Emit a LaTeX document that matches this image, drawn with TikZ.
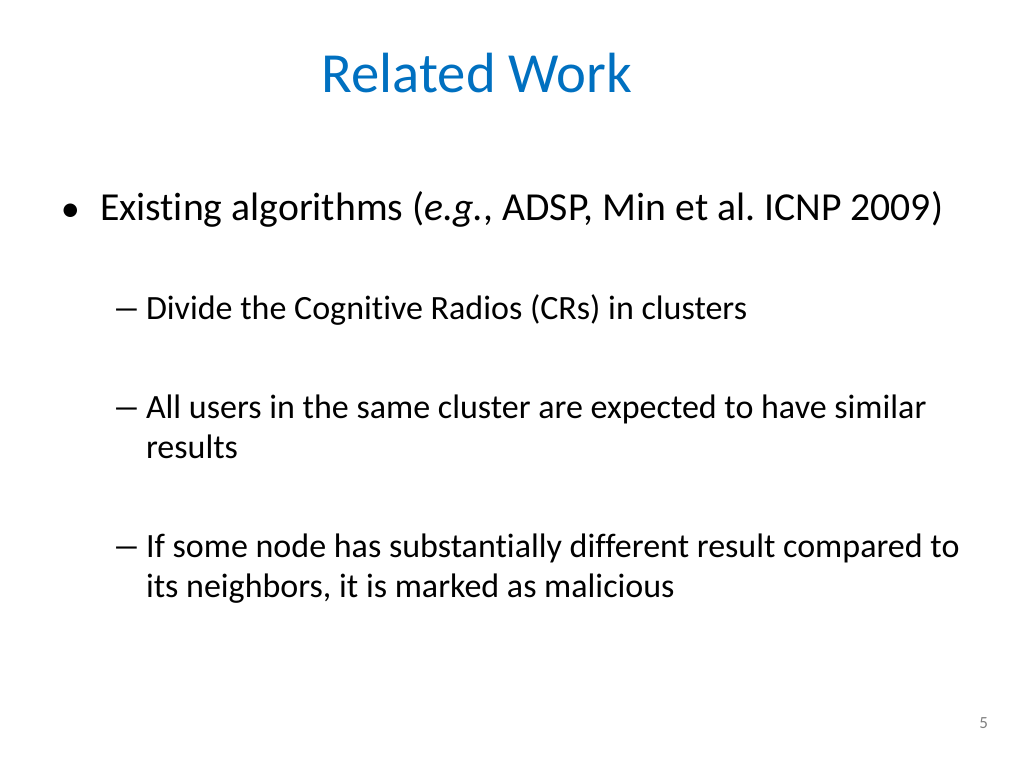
\documentclass[tikz,border=0pt]{standalone}
\usepackage{graphicx}
\usepackage{fontspec}
\setmainfont{Carlito}[Ligatures={NoCommon,NoContextual}]
\definecolor{titleblue}{RGB}{0,112,192}
\begin{document}
\frenchspacing
\begin{tikzpicture}[x=0.703125bp,y=-0.703125bp,
  txt/.style={inner sep=0pt,outer sep=0pt,anchor=base west},
  lvlone/.style={txt,font=\fontsize{28}{34}\selectfont},
  lvltwo/.style={txt,font=\fontsize{24}{29}\selectfont},
  bul/.style={txt,font=\fontsize{27}{32}\selectfont},
  dsh/.style={txt,font=\fontsize{24}{29}\selectfont}]
\useasboundingbox[fill=white] (0,0) rectangle (1024,768);
\node[inner sep=0pt,anchor=base,text=titleblue,font=\fontsize{40}{48}\selectfont] (title) at (477,93) {Related Work};
\node[bul] (b1) at (61,221) {•};
\node[lvlone] (t1) at (100,220) {Existing algorithms (\textit{e.g.}, ADSP, Min et al. ICNP 2009)};
\node[dsh] (d1) at (112,319) {\scalebox{1.7}[1]{–}};
\node[lvltwo] (t2) at (146,319) {Divide the Cognitive Radios (CRs) in clusters};
\node[dsh] (d2) at (112,418) {\scalebox{1.7}[1]{–}};
\node[lvltwo] (t3) at (146,418) {All users in the same cluster are expected to have similar};
\node[lvltwo] (t3b) at (146,458) {results};
\node[dsh] (d3) at (112,557) {\scalebox{1.7}[1]{–}};
\node[lvltwo] (t4) at (146,557) {If some node has substantially different result compared to};
\node[lvltwo] (t4b) at (146,597) {its neighbors, it is marked as malicious};
\node[txt,anchor=base east,text=gray,font=\fontsize{12}{14}\selectfont] (pg) at (988,728) {5};
\end{tikzpicture}
\end{document}
